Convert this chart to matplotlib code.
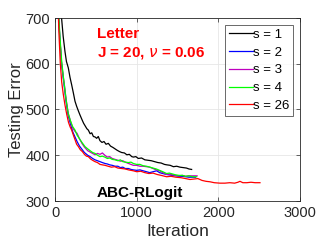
import matplotlib
matplotlib.use("Agg")
import matplotlib.pyplot as plt

plt.rcParams['font.family'] = ['Liberation Sans', 'DejaVu Sans']

# s = 1
it1 = [78, 100, 122, 140, 163, 184, 204, 225, 245, 265,
       286, 306, 330, 350, 370, 390, 408, 430, 450, 470,
       490, 510, 530, 550, 575, 600, 625, 653, 680, 710,
       735, 760, 790, 816, 850, 880, 910, 940, 960, 990,
       1020, 1060, 1100, 1140, 1180, 1220, 1260, 1300, 1340, 1370,
       1410, 1450, 1490, 1530, 1570, 1610, 1640, 1673]
e1 = [705, 660, 627, 605, 591, 570, 554, 536, 518, 507,
      497, 488, 478, 470, 464, 458, 455, 447, 449, 441,
      440, 437, 441, 432, 428, 430, 424, 426, 420, 417,
      414, 411, 408, 406, 405, 401, 402, 397, 396, 397,
      393, 394, 390, 389, 388, 386, 384, 383, 380, 379,
      378, 375, 376, 374, 373, 372, 370, 369]

# s = 2
it2 = [42, 60, 80, 100, 115, 135, 160, 190, 215, 245,
       270, 300, 330, 360, 400, 430, 460, 490, 520, 551,
       580, 612, 640, 670, 700, 735, 770, 800, 830, 860,
       900, 930, 959, 1000, 1040, 1080, 1120, 1160, 1200, 1245,
       1280, 1320, 1367, 1400, 1440, 1480, 1520, 1560, 1600, 1640,
       1680, 1720]
e2 = [710, 655, 600, 570, 548, 518, 488, 468, 452, 440,
      430, 420, 413, 406, 400, 397, 393, 390, 388, 386,
      384, 382, 381, 379, 378, 376, 376, 373, 374, 371,
      371, 369, 368, 367, 368, 366, 364, 362, 364, 366,
      362, 360, 358, 357, 356, 355, 354, 354, 353, 352,
      352, 352]

# s = 3
it3 = [40, 58, 80, 100, 116, 137, 162, 190, 215, 245,
       270, 300, 330, 360, 400, 430, 460, 490, 520, 551,
       580, 610, 640, 670, 700, 735, 770, 800, 830, 860,
       900, 930, 959, 1000, 1040, 1080, 1120, 1160, 1200, 1240,
       1280, 1320, 1367, 1400, 1440, 1480, 1520, 1560, 1600, 1640,
       1690, 1740]
e3 = [710, 658, 603, 573, 552, 521, 492, 474, 460, 452,
      448, 436, 426, 418, 410, 407, 404, 401, 404, 402,
      405, 400, 396, 397, 393, 391, 389, 387, 388, 385,
      382, 380, 378, 378, 376, 376, 375, 374, 371, 368,
      366, 362, 358, 359, 357, 356, 355, 356, 354, 355,
      355, 355]

# s = 4
it4 = [45, 60, 82, 100, 114, 135, 163, 190, 215, 245,
       270, 300, 330, 367, 400, 430, 460, 490, 520, 551,
       580, 610, 640, 670, 700, 735, 770, 800, 830, 860,
       900, 930, 959, 1000, 1040, 1080, 1120, 1160, 1200, 1240,
       1280, 1320, 1367, 1400, 1440, 1480, 1520, 1560, 1600, 1640,
       1680, 1734]
e4 = [710, 660, 605, 575, 554, 522, 490, 475, 463, 455,
      444, 436, 428, 419, 414, 410, 406, 404, 400, 397,
      398, 396, 393, 394, 391, 390, 388, 390, 386, 385,
      384, 385, 382, 380, 380, 377, 376, 374, 372, 370,
      367, 364, 360, 361, 359, 357, 356, 356, 354, 355,
      353, 353]

# s = 26
it26 = [38, 50, 65, 82, 100, 122, 143, 165, 185, 204,
        225, 245, 265, 286, 310, 335, 360, 385, 408, 435,
        460, 490, 520, 551, 580, 612, 650, 690, 730, 770,
        816, 860, 900, 959, 1000, 1050, 1100, 1150, 1200, 1250,
        1300, 1367, 1420, 1480, 1540, 1600, 1653, 1700, 1750, 1800,
        1850, 1898, 1950, 2020, 2080, 2140, 2200, 2240, 2265, 2300,
        2350, 2400, 2450, 2510]
e26 = [720, 660, 600, 560, 535, 510, 490, 472, 462, 455,
       444, 434, 424, 419, 412, 408, 402, 398, 397, 392,
       389, 386, 384, 380, 379, 378, 376, 374, 375, 372,
       371, 370, 368, 366, 364, 365, 362, 360, 361, 358,
       356, 353, 354, 352, 351, 349, 347, 348, 349, 345,
       343, 342, 340, 339, 339, 340, 339, 341, 343, 340,
       340, 341, 340, 340]

series = [(it1, e1, 'k', 's = 1'), (it2, e2, 'b', 's = 2'), (it3, e3, 'm', 's = 3'),
          (it4, e4, '#00ff00', 's = 4'), (it26, e26, 'r', 's = 26')]

fig = plt.figure(figsize=(3.32, 2.49), dpi=100)
ax = fig.add_axes([55 / 332, 48 / 249, 245 / 332, 183 / 249])
for x, y, c, lab in series:
    ax.plot(x, y, color=c, lw=0.9, label=lab)

ax.set_xlim(0, 3000)
ax.set_ylim(300, 700)
ax.set_xticks([0, 1000, 2000, 3000])
ax.set_yticks([300, 400, 500, 600, 700])
ax.grid(True, color='#e6e6e6', lw=0.6)
ax.set_axisbelow(True)
ax.tick_params(direction='in', length=3, width=0.5, labelsize=10.5,
               colors='#262626', top=True, right=True, labeltop=False, labelright=False)
for sp in ax.spines.values():
    sp.set_linewidth(0.6)
    sp.set_color('#262626')
ax.set_xlabel('Iteration', fontsize=12.5, color='#262626', labelpad=3)
ax.set_ylabel('Testing Error', fontsize=12, color='#262626', labelpad=1)

ax.text(0.17, 0.915, 'Letter', transform=ax.transAxes, color='r',
        fontsize=11, fontweight='bold', va='center')
ax.text(0.17, 0.81, r'J = 20, $\nu$ = 0.06', transform=ax.transAxes, color='r',
        fontsize=11, fontweight='bold', va='center')
ax.text(0.17, 0.045, 'ABC-RLogit', transform=ax.transAxes, color='k',
        fontsize=11, fontweight='bold', va='center')

leg = ax.legend(loc='upper right', fontsize=9.5, frameon=True, fancybox=False,
                handlelength=1.8, handletextpad=0.0, borderpad=0.3,
                labelspacing=0.42, borderaxespad=0.5)
leg.get_frame().set_edgecolor('#262626')
leg.get_frame().set_linewidth(0.6)

fig.savefig('out.png', dpi=100)
